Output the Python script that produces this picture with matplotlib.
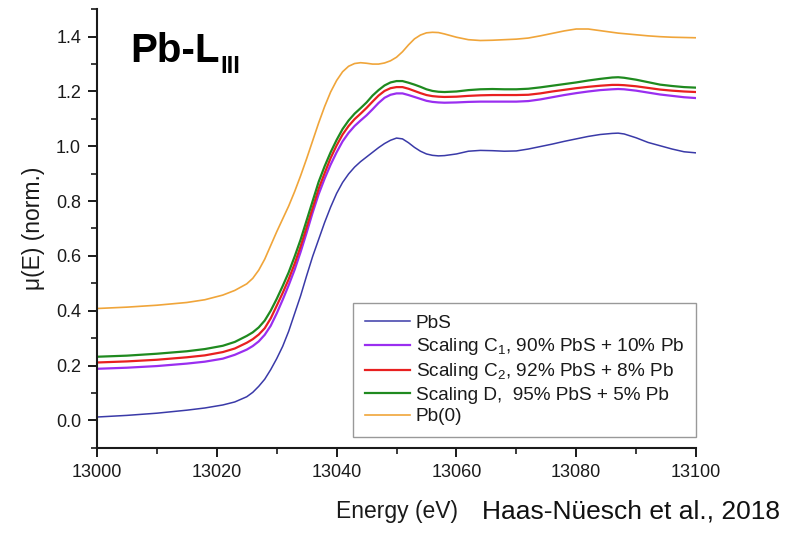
import matplotlib
matplotlib.use("Agg")
import matplotlib.pyplot as plt
from matplotlib.ticker import MultipleLocator, FormatStrFormatter

plt.rcParams['font.family'] = ['Liberation Sans', 'DejaVu Sans']
plt.rcParams['mathtext.fontset'] = 'custom'
plt.rcParams['mathtext.rm'] = 'Liberation Sans'
plt.rcParams['mathtext.it'] = 'Liberation Sans:italic'
plt.rcParams['mathtext.bf'] = 'Liberation Sans:bold'

energy = [13000, 13005, 13010, 13015, 13018, 13021, 13023, 13025, 13026, 13027,
          13028, 13029, 13030, 13031, 13032, 13033, 13034, 13035, 13036, 13037,
          13038, 13039, 13040, 13041, 13042, 13043, 13044, 13045, 13046, 13047,
          13048, 13049, 13050, 13051, 13052, 13053, 13054, 13055, 13056, 13057,
          13058, 13060, 13062, 13064, 13066, 13068, 13070, 13072, 13074, 13076,
          13078, 13080, 13082, 13084, 13086, 13087, 13088, 13090, 13092, 13094,
          13096, 13098, 13100]

pbs = [0.012, 0.018, 0.026, 0.037, 0.045, 0.056, 0.067, 0.086, 0.102, 0.124,
       0.150, 0.185, 0.225, 0.270, 0.325, 0.390, 0.455, 0.528, 0.598, 0.660,
       0.722, 0.778, 0.828, 0.868, 0.899, 0.924, 0.944, 0.961, 0.978, 0.995,
       1.010, 1.022, 1.030, 1.027, 1.013, 0.996, 0.982, 0.972, 0.967, 0.965,
       0.966, 0.972, 0.982, 0.985, 0.984, 0.982, 0.983, 0.990, 0.999, 1.008,
       1.018, 1.027, 1.036, 1.043, 1.047, 1.048, 1.045, 1.031, 1.014, 1.002,
       0.990, 0.980, 0.976]

scaling_c1 = [0.188, 0.192, 0.198, 0.207, 0.214, 0.225, 0.239, 0.258, 0.271, 0.288,
              0.312, 0.345, 0.390, 0.440, 0.493, 0.550, 0.615, 0.685, 0.758, 0.825,
              0.882, 0.933, 0.978, 1.018, 1.049, 1.074, 1.094, 1.113, 1.135, 1.158,
              1.177, 1.188, 1.193, 1.193, 1.187, 1.180, 1.173, 1.166, 1.162, 1.160,
              1.159, 1.160, 1.162, 1.163, 1.163, 1.163, 1.163, 1.165, 1.171, 1.179,
              1.187, 1.194, 1.200, 1.205, 1.208, 1.209, 1.208, 1.203, 1.196, 1.189,
              1.184, 1.179, 1.176]

scaling_c2 = [0.211, 0.215, 0.221, 0.230, 0.237, 0.249, 0.262, 0.283, 0.296, 0.313,
              0.336, 0.372, 0.418, 0.465, 0.515, 0.572, 0.635, 0.705, 0.775, 0.845,
              0.902, 0.957, 1.003, 1.043, 1.074, 1.099, 1.119, 1.140, 1.163, 1.185,
              1.202, 1.212, 1.216, 1.216, 1.210, 1.202, 1.194, 1.187, 1.183, 1.181,
              1.180, 1.181, 1.184, 1.186, 1.187, 1.187, 1.187, 1.188, 1.193, 1.200,
              1.206, 1.212, 1.217, 1.221, 1.224, 1.224, 1.223, 1.219, 1.213, 1.207,
              1.203, 1.200, 1.198]

scaling_d = [0.232, 0.236, 0.243, 0.252, 0.260, 0.272, 0.286, 0.308, 0.321, 0.339,
             0.364, 0.400, 0.443, 0.490, 0.540, 0.598, 0.660, 0.730, 0.800, 0.870,
             0.927, 0.978, 1.023, 1.063, 1.094, 1.119, 1.139, 1.160, 1.185, 1.205,
             1.222, 1.233, 1.238, 1.238, 1.232, 1.225, 1.217, 1.208, 1.202, 1.199,
             1.198, 1.200, 1.205, 1.208, 1.209, 1.208, 1.208, 1.210, 1.215, 1.221,
             1.227, 1.233, 1.240, 1.246, 1.251, 1.252, 1.250, 1.243, 1.234, 1.225,
             1.220, 1.216, 1.214]

pb_metal = [0.408, 0.413, 0.420, 0.430, 0.440, 0.457, 0.474, 0.498, 0.518, 0.548,
            0.588, 0.638, 0.688, 0.735, 0.782, 0.835, 0.893, 0.955, 1.020, 1.085,
            1.145, 1.198, 1.240, 1.272, 1.292, 1.302, 1.305, 1.303, 1.300, 1.300,
            1.304, 1.312, 1.325, 1.345, 1.370, 1.392, 1.406, 1.414, 1.416, 1.415,
            1.410, 1.398, 1.389, 1.386, 1.387, 1.389, 1.391, 1.395, 1.403, 1.412,
            1.421, 1.428, 1.428, 1.422, 1.416, 1.413, 1.411, 1.407, 1.403, 1.400,
            1.398, 1.397, 1.396]

series_labels = ["PbS",
                 "Scaling C$_1$, 90% PbS + 10% Pb",
                 "Scaling C$_2$, 92% PbS + 8% Pb",
                 "Scaling D,  95% PbS + 5% Pb",
                 "Pb(0)"]

fig = plt.figure(figsize=(7.95, 5.33), dpi=100)
ax = fig.add_axes([0.122, 0.160, 0.7535, 0.8226])

styles = [("#3a3aa8", 1.1), ("#9a2ef0", 1.6), ("#e82020", 1.6),
          ("#1f8a1f", 1.6), ("#f0a53a", 1.2)]
for ys, lab, (col, lw) in zip([pbs, scaling_c1, scaling_c2, scaling_d, pb_metal],
                              series_labels, styles):
    ax.plot(energy, ys, color=col, lw=lw, label=lab)

ax.set_xlim(13000, 13100)
ax.set_ylim(-0.1, 1.5)
ax.xaxis.set_major_locator(MultipleLocator(20))
ax.xaxis.set_minor_locator(MultipleLocator(10))
ax.yaxis.set_major_locator(MultipleLocator(0.2))
ax.yaxis.set_minor_locator(MultipleLocator(0.1))
ax.yaxis.set_major_formatter(FormatStrFormatter('%.1f'))

for s in ("top", "right"):
    ax.spines[s].set_visible(False)
for s in ("left", "bottom"):
    ax.spines[s].set_linewidth(1.5)
    ax.spines[s].set_color("#1a1a1a")
ax.tick_params(which="major", direction="out", length=6.5, width=1.4,
               labelsize=13, colors="#1a1a1a", pad=5)
ax.tick_params(which="minor", direction="out", length=4, width=1.2,
               colors="#1a1a1a")

ax.set_xlabel("Energy (eV)", fontsize=16.5, color="#1a1a1a", labelpad=14)
ax.set_ylabel("μ(E) (norm.)", fontsize=16.5, color="#1a1a1a", labelpad=8)

leg = ax.legend(loc="lower right", bbox_to_anchor=(1.0, 0.024), fontsize=13.7,
                frameon=True, fancybox=False, handlelength=2.35,
                handletextpad=0.3, labelspacing=0.22, borderpad=0.62,
                borderaxespad=0.0)
leg.get_frame().set_edgecolor("#808080")
leg.get_frame().set_linewidth(1.0)
for t in leg.get_texts():
    t.set_color("#1a1a1a")

title = ax.text(0.055, 0.88, "Pb-L", transform=ax.transAxes, fontsize=29,
                fontweight="bold", color="black", va="baseline")
ax.annotate("III", xy=(1, 0), xycoords=title, xytext=(1, -6),
            textcoords="offset points", fontsize=17, fontweight="bold",
            color="black", va="bottom")

fig.text(0.606, 0.027, "Haas-Nüesch et al., 2018", fontsize=19,
         color="#111111", ha="left", va="baseline")

fig.savefig("out.png", dpi=100)
